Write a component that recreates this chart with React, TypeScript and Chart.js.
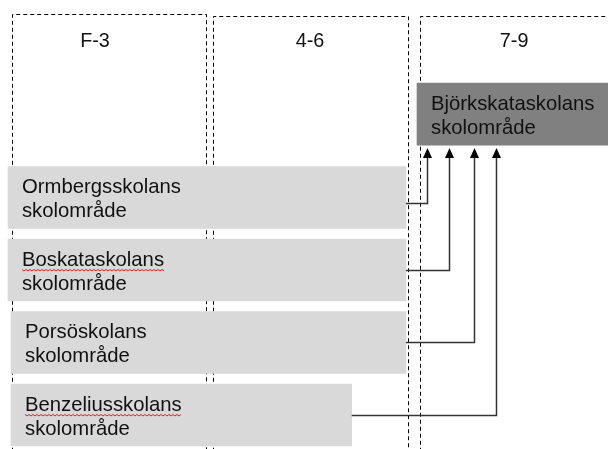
import React, { useEffect, useRef } from "react";
import { Chart, registerables } from "chart.js";

Chart.register(...registerables);

// ---- data ----
const gradeLabels = ["F-3", "4-6", "7-9"];
const feederSchools = [
  "Ormbergsskolans skolområde",
  "Boskataskolans skolområde",
  "Porsöskolans skolområde",
  "Benzeliusskolans skolområde",
];
const feederRow = [0, 1, 2, 3];
const feederStart = [-0.02, -0.02, -0.005, -0.005];
const feederEnd = [1.96, 1.96, 1.96, 1.69];
const spellFlagged = [false, true, false, true];
const targetSchool = "Björkskataskolans skolområde";
const targetRow = -1.15;
const targetSpan = [2.015, 3.05];

// ---- layout (scale units: columns on x, rows on y) ----
const X_MIN = -0.0597;
const X_MAX = 2.9652;
const Y_MIN = -2.724;
const Y_MAX = 3.469;
const colLeft = [0, 1.0, 2.03];
const colRight = [0.965, 1.97, 3.2];
const colTop = [-2.531, -2.503, -2.503];
const colBottom = 3.7;
const headerX = [0.413, 1.483, 2.498];
const headerY = -2.08;
const arrowX = [2.065, 2.174, 2.299, 2.408];
const connectorOffset = [0.075, 0, 0, 0];
const BOX_H = 62;

const FAMILY = '"Liberation Sans", Arial, sans-serif';
const BOX_FONT = "20.3px " + FAMILY;
const HEADER_FONT = "19.8px " + FAMILY;
const TEXT_COLOR = "#111111";
const FEEDER_COLOR = "#d9d9d9";
const TARGET_COLOR = "#808080";
const LINE_COLOR = "#333333";

function drawBoxText(ctx: CanvasRenderingContext2D, label: string, left: number, top: number, flagged: boolean) {
  const parts = label.split(" ");
  ctx.fillStyle = TEXT_COLOR;
  ctx.font = BOX_FONT;
  ctx.textAlign = "left";
  ctx.textBaseline = "alphabetic";
  const tx = left + 14;
  ctx.fillText(parts[0], tx, top + 27);
  ctx.fillText(parts[1], tx, top + 51);
  if (flagged) {
    const w = ctx.measureText(parts[0]).width;
    ctx.save();
    ctx.strokeStyle = "#e02020";
    ctx.lineWidth = 1;
    ctx.beginPath();
    const yb = top + 30.5;
    for (let px = 0; px <= w; px += 2) {
      const yy = yb + ((px / 2) % 2 === 0 ? 0 : 1.5);
      if (px === 0) ctx.moveTo(tx + px, yy);
      else ctx.lineTo(tx + px, yy);
    }
    ctx.stroke();
    ctx.restore();
  }
}

const diagramPlugin = {
  id: "diagram",
  beforeDatasetsDraw(chart: any) {
    const { ctx, scales } = chart;
    const x = scales.x;
    const y = scales.y;
    ctx.save();
    ctx.strokeStyle = "#000";
    ctx.lineWidth = 1;
    ctx.setLineDash([4, 3]);
    gradeLabels.forEach((_, i) => {
      const l = Math.round(x.getPixelForValue(colLeft[i])) + 0.5;
      const r = Math.round(x.getPixelForValue(colRight[i])) + 0.5;
      const t = Math.round(y.getPixelForValue(colTop[i])) + 0.5;
      const b = y.getPixelForValue(colBottom);
      ctx.beginPath();
      ctx.moveTo(l, b);
      ctx.lineTo(l, t);
      ctx.lineTo(r, t);
      ctx.lineTo(r, b);
      ctx.stroke();
    });
    ctx.setLineDash([]);
    ctx.fillStyle = TEXT_COLOR;
    ctx.font = HEADER_FONT;
    ctx.textAlign = "center";
    ctx.textBaseline = "alphabetic";
    gradeLabels.forEach((g, i) => {
      ctx.fillText(g, x.getPixelForValue(headerX[i]), y.getPixelForValue(headerY));
    });
    ctx.restore();
  },
  afterDatasetsDraw(chart: any) {
    const { ctx, scales } = chart;
    const x = scales.x;
    const y = scales.y;
    ctx.save();
    const targetBottom = y.getPixelForValue(targetRow) + BOX_H / 2;
    const tipY = targetBottom + 3;
    ctx.strokeStyle = LINE_COLOR;
    ctx.fillStyle = "#000";
    ctx.lineWidth = 1.5;
    feederSchools.forEach((_, i) => {
      const x0 = x.getPixelForValue(feederEnd[i]);
      const yy = Math.round(y.getPixelForValue(feederRow[i] + connectorOffset[i])) + 0.5;
      const xa = Math.round(x.getPixelForValue(arrowX[i])) + 0.5;
      ctx.beginPath();
      ctx.moveTo(x0, yy);
      ctx.lineTo(xa, yy);
      ctx.lineTo(xa, tipY + 8);
      ctx.stroke();
      ctx.beginPath();
      ctx.moveTo(xa, tipY);
      ctx.lineTo(xa - 4.5, tipY + 10);
      ctx.lineTo(xa + 4.5, tipY + 10);
      ctx.closePath();
      ctx.fill();
    });
    feederSchools.forEach((s, i) => {
      const top = y.getPixelForValue(feederRow[i]) - BOX_H / 2;
      drawBoxText(ctx, s, x.getPixelForValue(feederStart[i]), top, spellFlagged[i]);
    });
    drawBoxText(ctx, targetSchool, x.getPixelForValue(targetSpan[0]), y.getPixelForValue(targetRow) - BOX_H / 2, false);
    ctx.restore();
  },
};

export default function App() {
  const ref = useRef<HTMLCanvasElement | null>(null);
  useEffect(() => {
    document.body.style.margin = "0";
    if (!ref.current) return;
    const data = [
      ...feederSchools.map((_, i) => ({ x: [feederStart[i], feederEnd[i]], y: feederRow[i] })),
      { x: [targetSpan[0], targetSpan[1]], y: targetRow },
    ];
    const colors = [...feederSchools.map(() => FEEDER_COLOR), TARGET_COLOR];
    const chart = new Chart(ref.current, {
      type: "bar",
      data: {
        datasets: [
          {
            data: data as any,
            backgroundColor: colors,
            borderWidth: 0,
            barThickness: BOX_H,
          },
        ],
      },
      options: {
        indexAxis: "y",
        animation: false,
        responsive: false,
        devicePixelRatio: 1,
        layout: { padding: 0 },
        plugins: { legend: { display: false }, tooltip: { enabled: false } },
        scales: {
          x: { type: "linear", min: X_MIN, max: X_MAX, display: false },
          y: { type: "linear", min: Y_MIN, max: Y_MAX, reverse: true, offset: false, display: false },
        },
      },
      plugins: [diagramPlugin],
    });
    return () => chart.destroy();
  }, []);
  return (
    <div style={{ position: "absolute", left: 0, top: 0, width: 608, height: 449 }}>
      <canvas ref={ref} width={608} height={449} style={{ display: "block", width: 608, height: 449 }} />
    </div>
  );
}
